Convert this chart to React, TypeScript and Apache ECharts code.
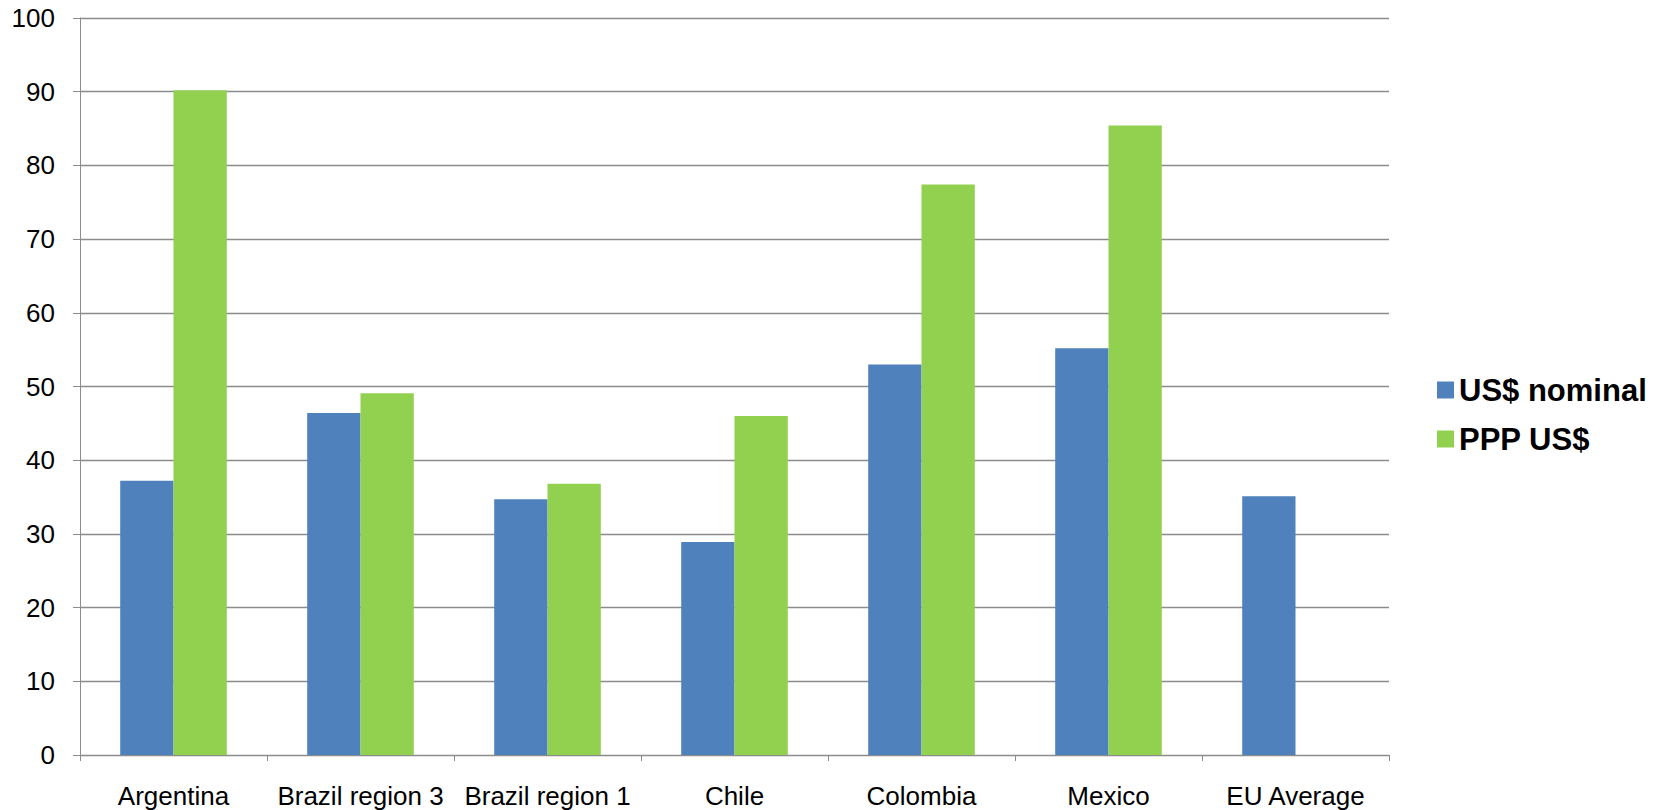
import React, { useEffect, useRef } from "react";
import * as echarts from "echarts";

const categories = ["Argentina", "Brazil region 3", "Brazil region 1", "Chile", "Colombia", "Mexico", "EU Average"];
const usNominal = [37.2, 46.4, 34.7, 28.9, 53.0, 55.2, 35.1];
const pppUs = [90.2, 49.1, 36.8, 46.0, 77.4, 85.4, null];
const seriesNames = ["US$ nominal", "PPP US$"];
const yTicks = { min: 0, max: 100, interval: 10 };

const FONT = "'Liberation Sans', Arial, sans-serif";
const GRID_COLOR = "#8c8c8c";

export default function App() {
  const ref = useRef<HTMLDivElement>(null);
  useEffect(() => {
    if (!ref.current) return;
    const chart = echarts.init(ref.current, undefined, { renderer: "svg" });
    chart.setOption({
      animation: false,
      backgroundColor: "#ffffff",
      textStyle: { fontFamily: FONT },
      grid: { left: 80, right: 277, top: 18, bottom: 55, containLabel: false },
      legend: {
        orient: "vertical",
        left: 1432,
        top: 367,
        itemWidth: 17,
        itemHeight: 17,
        itemGap: 13,
        icon: "rect",
        data: seriesNames,
        textStyle: { fontSize: 31, fontWeight: "bold", color: "#000", fontFamily: FONT, lineHeight: 36, padding: [0, 0, 0, 0] },
      },
      xAxis: {
        type: "category",
        data: categories,
        axisLine: { show: true, lineStyle: { color: GRID_COLOR, width: 1 } },
        axisTick: { show: true, length: 6, lineStyle: { color: GRID_COLOR } },
        axisLabel: { color: "#000", fontSize: 26, fontFamily: FONT, margin: 28, interval: 0 },
        splitLine: { show: false },
      },
      yAxis: {
        type: "value",
        min: yTicks.min,
        max: yTicks.max,
        interval: yTicks.interval,
        axisLine: { show: true, lineStyle: { color: GRID_COLOR, width: 1 } },
        axisTick: { show: true, length: 7, lineStyle: { color: GRID_COLOR } },
        axisLabel: { color: "#000", fontSize: 26, fontFamily: FONT, margin: 25 },
        splitLine: { show: true, lineStyle: { color: GRID_COLOR, width: 1.3 } },
      },
      series: [
        {
          name: seriesNames[0],
          type: "bar",
          data: usNominal,
          itemStyle: { color: "#4f81bd" },
          barGap: "0%",
          barCategoryGap: "43%",
        },
        {
          name: seriesNames[1],
          type: "bar",
          data: pppUs,
          itemStyle: { color: "#92d050" },
          barGap: "0%",
          barCategoryGap: "43%",
        },
      ],
    });
    return () => chart.dispose();
  }, []);
  return <div ref={ref} style={{ position: "fixed", left: 0, top: 0, width: 1666, height: 810 }} />;
}
